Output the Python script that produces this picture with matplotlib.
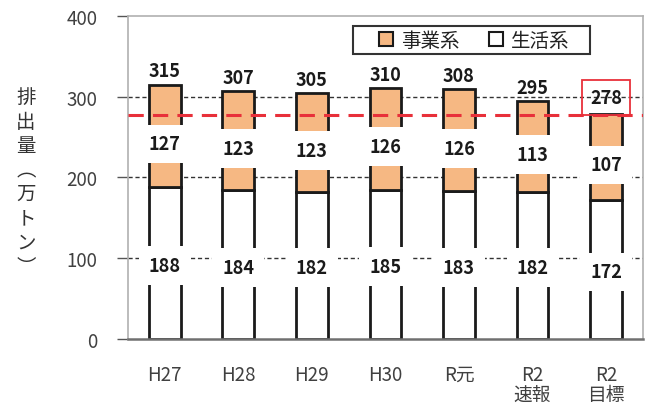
import matplotlib
matplotlib.use("Agg")
import matplotlib.pyplot as plt
from matplotlib.patches import Rectangle
from matplotlib.lines import Line2D
import numpy as np

plt.rcParams['font.family'] = ['Noto Sans CJK JP', 'DejaVu Sans']

# 排出量（万トン）
categories = ["H27", "H28", "H29", "H30", "R元", "R2\n速報", "R2\n目標"]
household = [188, 184, 182, 185, 183, 182, 172]   # 生活系
business = [127, 123, 123, 126, 126, 113, 107]    # 事業系
totals = [315, 307, 305, 310, 308, 295, 278]
target = 278

orange = "#F6B883"
x = np.arange(len(categories))
w = 0.43

fig = plt.figure(figsize=(6.48, 4.06), dpi=100)
ax = fig.add_axes([0.1975, 0.1626, 0.7945, 0.7955])

# dashed guide lines behind the bars
for v in (100, 200, 300):
    ax.axhline(v, color="#333333", lw=1.0, ls=(0, (3, 2)), zorder=1)

ax.bar(x, household, w, color="white", edgecolor="#1a1a1a", lw=2, zorder=2)
ax.bar(x, business, w, bottom=household, color=orange, edgecolor="#1a1a1a",
       lw=2, zorder=2)

# target line
ax.axhline(target, color="#E8303A", lw=2.2, ls=(0, (5, 3)), zorder=3)

lab_kw = dict(ha="center", va="center", fontsize=13, fontweight="bold",
              color="#1a1a1a", zorder=4,
              bbox=dict(boxstyle="square,pad=0.55", fc="white", ec="none"))
for i in range(len(x)):
    ax.text(x[i], household[i] / 2 - 3, str(household[i]), **lab_kw)
    ax.text(x[i], household[i] + business[i] / 2 - 10, str(business[i]), **lab_kw)
    top = household[i] + business[i]
    if i == len(x) - 1:
        ax.annotate(str(totals[i]), (x[i], top), xytext=(0, 5),
                    textcoords="offset points", ha="center", va="bottom",
                    fontsize=13, fontweight="bold", color="#1a1a1a", zorder=5,
                    bbox=dict(boxstyle="square,pad=0.45", fc="none",
                              ec="#E8303A", lw=1.3))
    else:
        ax.annotate(str(totals[i]), (x[i], top), xytext=(0, 3),
                    textcoords="offset points", ha="center", va="bottom",
                    fontsize=13, fontweight="bold", color="#1a1a1a", zorder=5)

ax.set_xlim(-0.5, len(x) - 0.5)
ax.set_ylim(0, 400)
ax.set_yticks([0, 100, 200, 300, 400])
ax.set_xticks(x)
ax.set_xticklabels(categories, va="top", linespacing=0.95)
ax.tick_params(axis="x", length=0, pad=18, labelsize=13.5, labelcolor="#404040")
ax.tick_params(axis="y", length=8, width=1, color="#555555", pad=14,
               labelsize=13.5, labelcolor="#404040")
for s in ax.spines.values():
    s.set_color("#b0b0b0")
    s.set_linewidth(1.2)
ax.spines["bottom"].set_color("#707070")
ax.spines["bottom"].set_linewidth(1.8)

# vertical axis title, stacked characters
fig.text(0.040, 0.55, "\n".join("排出量︵万トン︶"), ha="center", va="center",
         fontsize=14, color="#333333", linespacing=1.2)

# legend
ax.add_patch(Rectangle((0.437, 0.882), 0.46, 0.087, transform=ax.transAxes,
                       fc="white", ec="#333333", lw=1.5, zorder=6))
handles = [Line2D([], [], ls="none", marker="s", ms=10, mfc=orange,
                  mec="#1a1a1a", mew=1.5, label="事業系"),
           Line2D([], [], ls="none", marker="s", ms=10, mfc="white",
                  mec="#1a1a1a", mew=1.5, label="生活系")]
leg = ax.legend(handles=handles, ncol=2, loc="center",
                bbox_to_anchor=(0.672, 0.9255), fontsize=14, frameon=False,
                handlelength=0.8, handletextpad=0.35, columnspacing=1.5,
                borderpad=0, borderaxespad=0)
leg.set_zorder(7)
for t in leg.get_texts():
    t.set_color("#222222")

fig.savefig("out.png", dpi=100)
